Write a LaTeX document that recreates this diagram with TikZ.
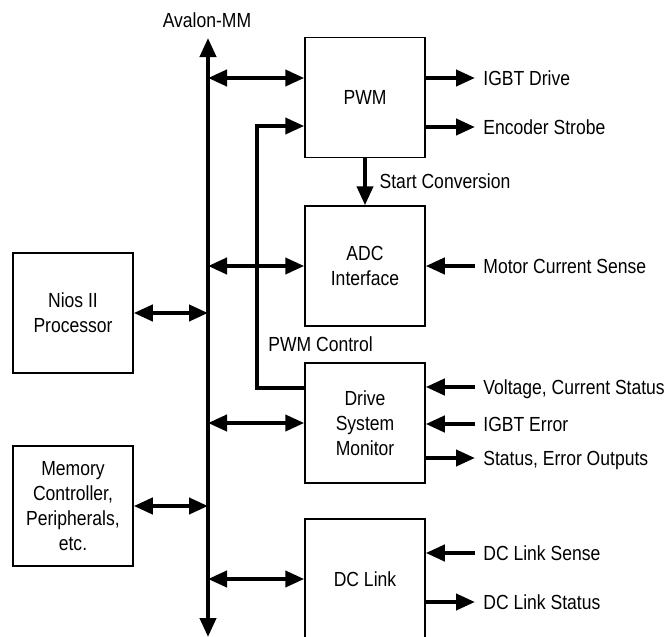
\documentclass[tikz,border=0pt]{standalone}
\usepackage{fontspec}
\setmainfont{Liberation Sans}[FakeStretch=0.86]
\usetikzlibrary{arrows.meta}

\begin{document}
\begin{tikzpicture}[
                x=0.5pt, y=-0.5pt,
                font=\fontsize{10.2}{12.5}\selectfont,
                block/.style={draw, line width=0.75pt, minimum width=60pt, minimum height=60pt, align=center, inner sep=0pt},
                link/.style={line width=2pt, -{Triangle[length=9.5pt,width=8pt]}},
                duplex/.style={line width=2pt, {Triangle[length=9.5pt,width=8pt]}-{Triangle[length=9.5pt,width=8pt]}},
                signal/.style={anchor=west, inner sep=4pt, text height=0.72em, text depth=0pt},
            ]
                \useasboundingbox (0,0) rectangle (665,637);
                % the Avalon-MM bus
                \node (avalon) at (207,20) {Avalon-MM};
                \coordinate (bustop) at (208,38);
                \coordinate (busbot) at (208,637);
                \draw[duplex] (busbot) -- (bustop);
                % blocks
                \node[block] (pwm) at (365,97.5) {PWM};
                \node[block] (adc) at (365,266) {ADC\\Interface};
                \node[block] (drive) at (365,423) {Drive\\System\\Monitor};
                \node[block] (dclink) at (365,579) {DC Link};
                \node[block] (nios) at (73,313) {Nios II\\Processor};
                \node[block] (memory) at (73,506) {Memory\\Controller,\\Peripherals,\\etc.};
                % bus taps
                \coordinate (pwmbus) at (208,78);
                \draw[duplex] (pwmbus) -- (pwmbus -| pwm.west);
                \draw[duplex] (adc.west -| bustop) -- (adc.west);
                \draw[duplex] (drive.west -| bustop) -- (drive.west);
                \draw[duplex] (dclink.west -| bustop) -- (dclink.west);
                \draw[duplex] (nios.east) -- (nios.east -| bustop);
                \draw[duplex] (memory.east) -- (memory.east -| bustop);
                % between blocks
                \draw[link] (pwm.south) -- (adc.north) node[midway, right=3pt, text height=0.72em, text depth=0pt] {Start Conversion};
                \coordinate (ctlbot) at (257,388);
                \coordinate (ctltop) at (257,126);
                \draw[link] (ctlbot -| drive.west) -- (ctlbot) -- (ctltop) -- (ctltop -| pwm.west);
                \node[anchor=west, inner sep=0pt, text height=0.72em, text depth=0pt] (pwmctl) at (268,344) {PWM Control};
                % outside signals
                \node[signal] (igbt) at (475,78) {IGBT Drive};
                \node[signal] (encoder) at (475,127) {Encoder Strobe};
                \node[signal] (motor) at (475,266) {Motor Current Sense};
                \node[signal] (voltage) at (475,387) {Voltage, Current Status};
                \node[signal] (igbterr) at (475,424) {IGBT Error};
                \node[signal] (status) at (475,458) {Status, Error Outputs};
                \node[signal] (dcsense) at (475,553) {DC Link Sense};
                \node[signal] (dcstatus) at (475,602) {DC Link Status};
                \draw[link] (pwm.east |- igbt) -- (igbt.west);
                \draw[link] (pwm.east |- encoder) -- (encoder.west);
                \draw[link] (motor.west) -- (adc.east |- motor);
                \draw[link] (voltage.west) -- (drive.east |- voltage);
                \draw[link] (igbterr.west) -- (drive.east |- igbterr);
                \draw[link] (drive.east |- status) -- (status.west);
                \draw[link] (dcsense.west) -- (dclink.east |- dcsense);
                \draw[link] (dclink.east |- dcstatus) -- (dcstatus.west);
            \end{tikzpicture}
\end{document}
